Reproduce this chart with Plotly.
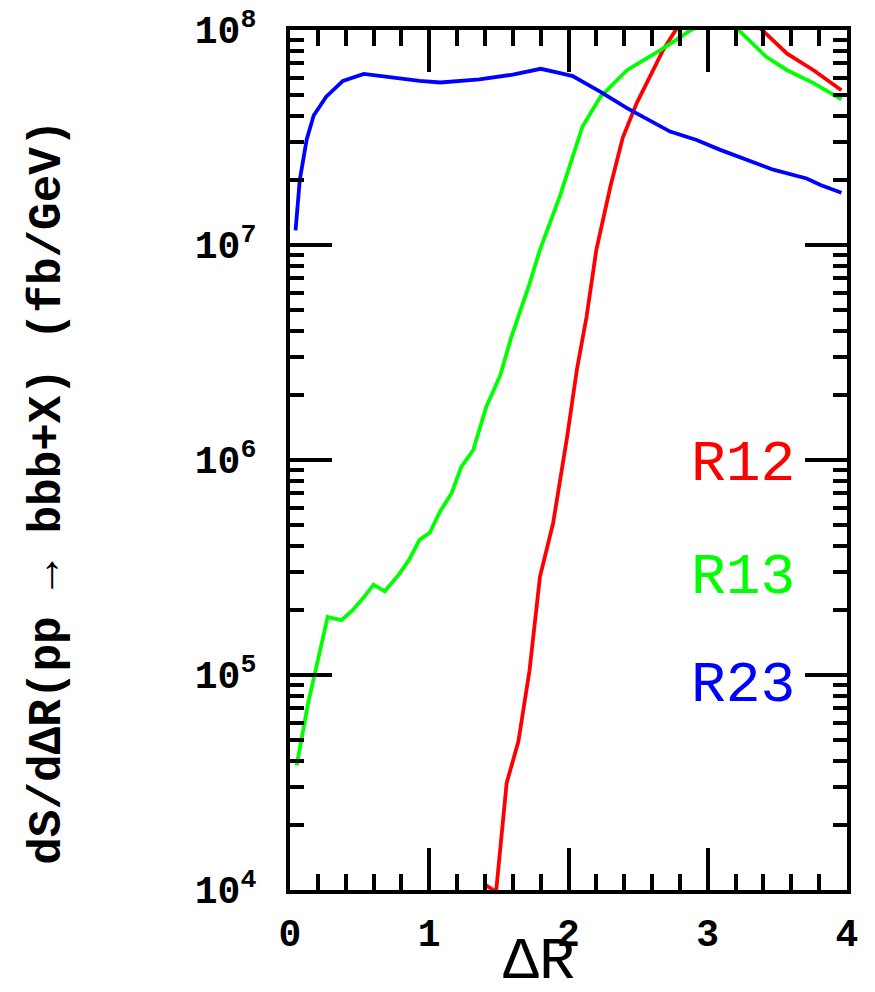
import plotly.graph_objects as go

# R12 (red)
r12_x = [1.40, 1.48, 1.556, 1.64, 1.72, 1.795, 1.89, 1.99, 2.06, 2.13, 2.20, 2.30, 2.39, 2.49,
         2.59, 2.68, 2.77, 3.05, 3.39, 3.57, 3.76, 3.96]
r12_y = [1.06e4, 9.8e3, 3.15e4, 4.9e4, 1.05e5, 2.86e5, 5.1e5, 1.28e6, 2.63e6, 4.65e6, 9.5e6,
         1.86e7, 3.16e7, 4.57e7, 6.17e7, 8.07e7, 1.0e8, 1.5e8, 1.0e8, 7.76e7, 6.5e7, 5.25e7]

# R13 (green)
r13_x = [0.048, 0.13, 0.20, 0.24, 0.27, 0.37, 0.45, 0.54, 0.60, 0.68, 0.78, 0.855, 0.93, 1.005,
         1.077, 1.16, 1.23, 1.315, 1.41, 1.51, 1.59, 1.72, 1.795, 1.94, 2.10, 2.23, 2.42, 2.66,
         2.88, 3.05, 3.22, 3.42, 3.57, 3.76, 3.96]
r13_y = [3.8e4, 7.4e4, 1.17e5, 1.5e5, 1.86e5, 1.8e5, 2.0e5, 2.34e5, 2.63e5, 2.45e5, 2.92e5,
         3.43e5, 4.25e5, 4.6e5, 5.75e5, 7.0e5, 9.3e5, 1.11e6, 1.77e6, 2.48e6, 3.74e6, 6.6e6,
         9.5e6, 1.7e7, 3.55e7, 4.9e7, 6.5e7, 8.07e7, 1.0e8, 1.15e8, 1.0e8, 7.5e7, 6.5e7,
         5.66e7, 4.76e7]

# R23 (blue)
r23_x = [0.04, 0.07, 0.12, 0.17, 0.26, 0.38, 0.53, 0.74, 0.93, 1.08, 1.36, 1.60, 1.80, 1.94,
         2.03, 2.23, 2.42, 2.73, 2.92, 3.09, 3.23, 3.47, 3.71, 3.81, 3.96]
r23_y = [1.17e7, 2.0e7, 3.1e7, 4.0e7, 4.9e7, 5.8e7, 6.25e7, 6.0e7, 5.8e7, 5.7e7, 5.9e7, 6.2e7,
         6.6e7, 6.3e7, 6.1e7, 5.16e7, 4.33e7, 3.37e7, 3.08e7, 2.77e7, 2.57e7, 2.24e7, 2.04e7,
         1.9e7, 1.75e7]

x_ticks = [0, 1, 2, 3, 4]
y_ticks = [1e4, 1e5, 1e6, 1e7, 1e8]
y_exps = ["4", "5", "6", "7", "8"]
y_ticktext = ["10<sup>%s</sup>" % e for e in y_exps]
y_minor = [m * 10 ** e for e in range(4, 8) for m in range(2, 10)]

series = [
    ("R12", r12_x, r12_y, "#ff0000"),
    ("R13", r13_x, r13_y, "#00ff00"),
    ("R23", r23_x, r23_y, "#0000ff"),
]

FONT = "Liberation Mono"

fig = go.Figure()
for name, xs, ys, col in series:
    fig.add_trace(go.Scatter(x=xs, y=ys, mode="lines", name=name,
                             line=dict(color=col, width=3.8), showlegend=False))

axis_common = dict(showline=True, linewidth=4, linecolor="black", mirror="allticks",
                   ticks="inside", ticklen=42, tickwidth=3.5, tickcolor="black",
                   showgrid=False, zeroline=False, automargin=False)

fig.update_xaxes(range=[0, 4], tickvals=x_ticks, ticklabelstandoff=6,
                 tickfont=dict(family=FONT, size=38, color="black", weight="bold"),
                 minor=dict(ticks="inside", ticklen=16, tickwidth=3.5, tickcolor="black",
                            dtick=0.2, tick0=0, showgrid=False),
                 **axis_common)
fig.update_yaxes(type="log", range=[4, 8], tickvals=y_ticks, ticktext=y_ticktext,
                 ticklabelstandoff=22,
                 tickfont=dict(family=FONT, size=38, color="black", weight="bold"),
                 minor=dict(ticks="inside", ticklen=14, tickwidth=3.5, tickcolor="black",
                            tickvals=y_minor, showgrid=False),
                 **axis_common)

# legend labels
leg_y = [0.495, 0.363, 0.238]
for (name, xs, ys, col), yy in zip(series, leg_y):
    fig.add_annotation(text=name, xref="paper", yref="paper", x=0.911, y=yy,
                       xanchor="right", yanchor="middle", showarrow=False,
                       font=dict(family=FONT, size=58, color=col))

# axis titles
fig.add_annotation(text="ΔR", xref="paper", yref="paper", x=0.447, y=-0.084,
                   xanchor="center", yanchor="middle", showarrow=False,
                   font=dict(family=FONT, size=60, color="black"))
fig.add_annotation(text="dS/dΔR(pp → bbb+X) (fb/GeV)", xref="paper", yref="paper",
                   x=-0.4345, y=0.463, xanchor="center", yanchor="middle",
                   textangle=-90, showarrow=False,
                   font=dict(family=FONT, size=46, color="black", weight="bold"))

fig.update_layout(width=875, height=992, margin=dict(l=290, r=28, t=30, b=102),
                  plot_bgcolor="white", paper_bgcolor="white")

fig.write_html("out.html")
